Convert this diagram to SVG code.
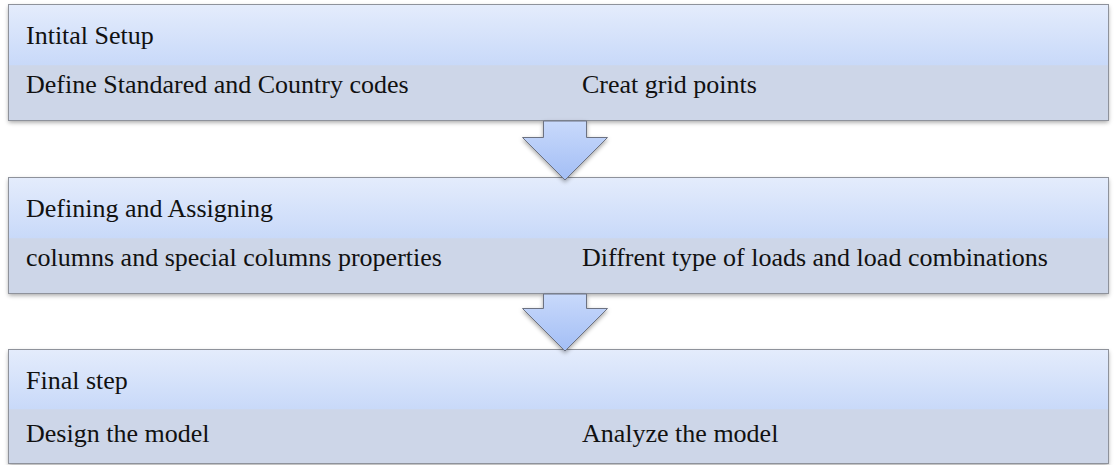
<svg xmlns="http://www.w3.org/2000/svg" width="1114" height="465" viewBox="0 0 1114 465">
<defs>
<linearGradient id="hdr" x1="0" y1="0" x2="0" y2="1">
<stop offset="0" stop-color="#e4ecfc"/>
<stop offset="1" stop-color="#c8d9f9"/>
</linearGradient>
<linearGradient id="arw" x1="0" y1="0" x2="0" y2="1">
<stop offset="0" stop-color="#c8d9fb"/>
<stop offset="1" stop-color="#a3bef5"/>
</linearGradient>
<filter id="sh" x="-5%" y="-20%" width="110%" height="140%">
<feDropShadow dx="0" dy="2" stdDeviation="2" flood-color="#000" flood-opacity="0.35"/>
</filter>
</defs>
<style>
.hdr{fill:url(#hdr);}
.sub{fill:#cdd6e8;}
.frame{fill:none;stroke:#8e929b;stroke-width:1;}
.arrow{fill:url(#arw);stroke:#6c7282;stroke-width:1;stroke-linejoin:miter;}
text{font-family:"Liberation Serif","Times New Roman",serif;font-size:26px;fill:#111;}
</style>

<g id="step1">
<rect x="8.5" y="4.5" width="1100" height="116" fill="#cdd6e8" filter="url(#sh)"/>
<rect class="hdr" x="8.5" y="4.5" width="1100" height="61"/>
<rect class="sub" x="8.5" y="65.5" width="1100" height="55"/>
<rect class="frame" x="8.5" y="4.5" width="1100" height="116"/>
<text x="26" y="44">Intital Setup</text>
<text x="26" y="93">Define Standared and Country codes</text>
<text x="582" y="93">Creat grid points</text>
</g>

<g id="step2">
<rect x="8.5" y="177.5" width="1100" height="116" fill="#cdd6e8" filter="url(#sh)"/>
<rect class="hdr" x="8.5" y="177.5" width="1100" height="61"/>
<rect class="sub" x="8.5" y="238.5" width="1100" height="55"/>
<rect class="frame" x="8.5" y="177.5" width="1100" height="116"/>
<text x="26" y="217">Defining and Assigning</text>
<text x="26" y="266">columns and special columns properties</text>
<text x="582" y="266">Diffrent type of loads and load combinations</text>
</g>

<g id="step3">
<rect x="8.5" y="349.5" width="1100" height="114" fill="#cdd6e8" filter="url(#sh)"/>
<rect class="hdr" x="8.5" y="349.5" width="1100" height="60"/>
<rect class="sub" x="8.5" y="409.5" width="1100" height="54"/>
<rect class="frame" x="8.5" y="349.5" width="1100" height="114"/>
<text x="26" y="389">Final step</text>
<text x="26" y="442">Design the model</text>
<text x="582" y="442">Analyze the model</text>
</g>

<g id="connectors">
<path class="arrow" filter="url(#sh)" d="M543.5,121 L543.5,137.5 L522.5,137.5 L565,180 L607.5,137.5 L586.5,137.5 L586.5,121 Z"/>
<path class="arrow" filter="url(#sh)" d="M543.5,294 L543.5,308.5 L522.5,308.5 L565,351 L607.5,308.5 L586.5,308.5 L586.5,294 Z"/>
</g>
</svg>
